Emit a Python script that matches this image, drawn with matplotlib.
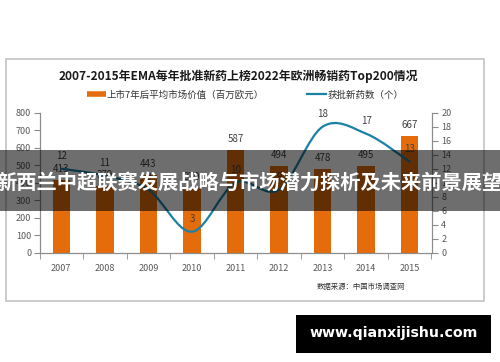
import matplotlib
matplotlib.use("Agg")
import matplotlib.pyplot as plt
from matplotlib.lines import Line2D
from matplotlib.patches import Rectangle, PathPatch
from matplotlib.path import Path

plt.rcParams['font.family'] = ['Noto Sans CJK SC', 'DejaVu Sans']

years = ["2007", "2008", "2009", "2010", "2011", "2012", "2013", "2014", "2015"]
market_value = [413, 379, 443, 370, 587, 494, 478, 495, 667]   # 百万欧元
new_drugs = [12, 11, 9, 3, 10, 9, 18, 17, 13]                  # 个

TITLE = "2007-2015年EMA每年批准新药上榜2022年欧洲畅销药Top200情况"
BAR_LABEL = "上市7年后平均市场价值（百万欧元）"
LINE_LABEL = "获批新药数（个）"
SOURCE = "数据来源：中国市场调查网"
BANNER = "新西兰中超联赛发展战略与市场潜力探析及未来前景展望"
WATERMARK = "www.qianxijishu.com"

ORANGE = "#E46C0A"
BLUE = "#1B80A6"
AXC = "#8C8C8C"
TXT = "#404040"

W, H = 500, 362


def fx(px):
    return px / W


def fy(py):
    return 1 - py / H


def smooth_path(xs, ys):
    # excel-style smoothed line: cubic bezier segments through every point
    pts = list(zip(xs, ys))
    verts, codes = [pts[0]], [Path.MOVETO]
    n = len(pts)
    for i in range(n - 1):
        p0 = pts[max(i - 1, 0)]
        p1 = pts[i]
        p2 = pts[i + 1]
        p3 = pts[min(i + 2, n - 1)]
        c1 = (p1[0] + (p2[0] - p0[0]) / 6, p1[1] + (p2[1] - p0[1]) / 6)
        c2 = (p2[0] - (p3[0] - p1[0]) / 6, p2[1] - (p3[1] - p1[1]) / 6)
        verts += [c1, c2, p2]
        codes += [Path.CURVE4] * 3
    return Path(verts, codes)


fig = plt.figure(figsize=(5, 3.62), dpi=100)
fig.patch.set_facecolor("white")

# chart frame
fig.add_artist(Rectangle((fx(6), fy(301)), fx(484) - fx(6), fy(59) - fy(301),
                         transform=fig.transFigure, fill=False,
                         edgecolor="#C4C4C4", linewidth=1.2, zorder=-1))

ax = fig.add_axes([fx(39.5), fy(252.7), fx(431.5) - fx(39.5), fy(112.7) - fy(252.7)])
ax2 = ax.twinx()

xs = list(range(len(years)))
ax.bar(xs, market_value, width=0.4, color=ORANGE, zorder=2)
ax.set_xlim(-0.5, len(years) - 0.5)
ax.set_ylim(0, 800)
ax.set_yticks(range(0, 801, 100))
ax.set_xticks(xs)
ax.set_xticklabels(years)
ax.set_xticks([x - 0.5 for x in range(len(years) + 1)], minor=True)
ax.tick_params(axis="x", which="major", length=0, pad=8, labelsize=6.5, labelcolor="#595959")
ax.tick_params(axis="x", which="minor", length=4, color=AXC, direction="out")
ax.tick_params(axis="y", length=4, color=AXC, pad=2, labelsize=6.5, labelcolor="#595959")

ax2.add_patch(PathPatch(smooth_path(xs, new_drugs), fill=False, edgecolor=BLUE,
                        linewidth=1.6, capstyle="round", zorder=3))
ax2.set_ylim(0, 20)
ax2.set_yticks(range(0, 21, 2))
ax2.tick_params(axis="y", length=4, color=AXC, pad=3, labelsize=6.5, labelcolor="#595959")

for a in (ax, ax2):
    a.spines["top"].set_visible(False)
    for s in ("left", "right", "bottom"):
        a.spines[s].set_color(AXC)
        a.spines[s].set_linewidth(0.8)
ax.set_facecolor("none")

for x, v in zip(xs, market_value):
    ax.annotate(str(v), (x, v), xytext=(0, 8), textcoords="offset points",
                ha="center", va="center", fontsize=7, color=TXT, zorder=4)
for x, v in zip(xs, new_drugs):
    ax2.annotate(str(v), (x, v), xytext=(0, 9.5), textcoords="offset points",
                 ha="center", va="center", fontsize=7, color=TXT, zorder=4)

fig.text(fx(238), fy(76), TITLE, ha="center", va="center", fontsize=8.6,
         fontweight="bold", color="#1A1A1A")

handles = [Line2D([0], [0], color=ORANGE, linewidth=4, solid_capstyle="butt"),
           Line2D([0], [0], color=BLUE, linewidth=1.6)]
fig.legend(handles, [BAR_LABEL, LINE_LABEL], loc="center", ncol=2,
           bbox_to_anchor=(fx(245), fy(95)), frameon=False, fontsize=6.8,
           handlelength=2.0, handletextpad=0.1, columnspacing=4.6,
           labelcolor="#333333")

fig.text(fx(317), fy(287), SOURCE, ha="left", va="center", fontsize=5.3, color="#333333")

# overlay banner across the chart
fig.add_artist(Rectangle((0, fy(211)), 1, fy(150) - fy(211), transform=fig.transFigure,
                         facecolor="black", alpha=0.57, edgecolor="none", zorder=10))
fig.text(0.5, fy(182), BANNER, ha="center", va="center", fontsize=14.6,
         fontweight="bold", color="white", zorder=11)

# watermark box
fig.add_artist(Rectangle((fx(296), fy(353)), fx(491) - fx(296), fy(315) - fy(353),
                         transform=fig.transFigure, facecolor="black",
                         edgecolor="none", zorder=10))
fig.text(fx(394), fy(333), WATERMARK, ha="center", va="center", fontsize=10.2,
         fontweight="bold", color="white", family="DejaVu Sans", zorder=11)

fig.savefig("out.png", dpi=100, facecolor="white")
